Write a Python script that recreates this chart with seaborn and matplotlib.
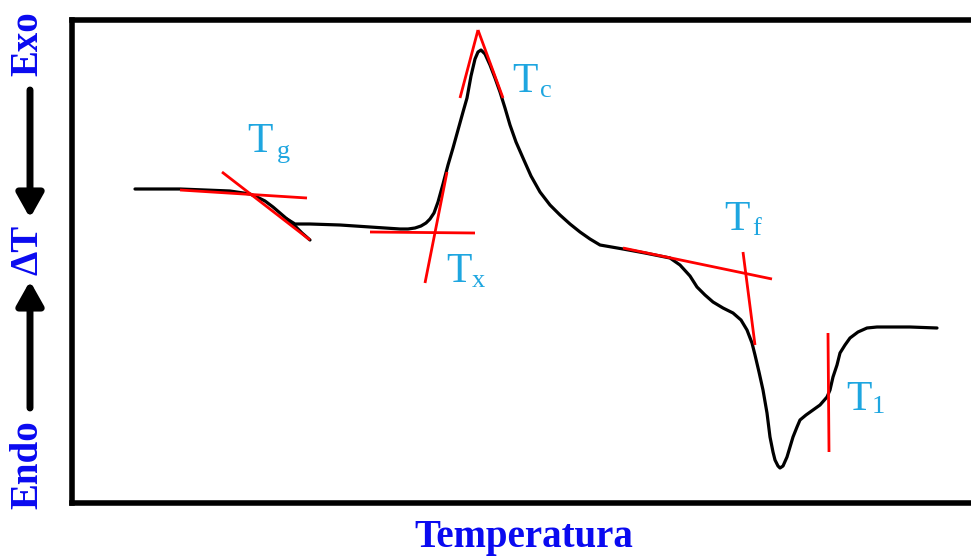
import matplotlib
matplotlib.use("Agg")
import matplotlib.pyplot as plt
import seaborn as sns
import pandas as pd

# ---------------- data (schematic DTA curve, arbitrary units) ----------------
curve_x = [135, 180, 230, 250, 257, 265, 273, 280, 287, 295, 310, 340, 370, 400, 408,
           415, 421, 426, 430, 434, 438, 443, 448, 453, 458, 463, 467, 471, 475, 478,
           481, 485, 490, 495, 500, 505, 510, 516, 523, 531, 540, 550, 560, 570, 580,
           590, 600, 623, 645, 670, 680, 690, 697, 705, 713, 723, 733, 741, 747, 752,
           755, 759, 763, 767, 770, 773, 775, 778, 780, 783, 787, 790, 793, 797, 800,
           806, 813, 820, 827, 830, 833, 837, 840, 845, 850, 858, 867, 877, 887, 910, 937]
curve_y = [189, 189, 191, 194, 197, 201, 207, 213, 219, 224, 224, 225, 227, 229, 229,
           228, 226, 223, 219, 213, 202, 184, 165, 148, 130, 112, 98, 76, 59, 52,
           50, 54, 65, 78, 92, 108, 125, 142, 158, 176, 192, 205, 215, 224, 232,
           239, 245, 249, 253, 258, 265, 276, 287, 295, 302, 308, 313, 320, 330, 343,
           355, 372, 390, 413, 437, 452, 460, 466, 468, 466, 457, 447, 437, 427, 420,
           415, 410, 405, 397, 390, 377, 365, 353, 345, 338, 332, 328, 327, 327, 327, 328]

tail_x = [287, 295, 302, 310]
tail_y = [219, 226, 233, 240]

# tangent / marker segments (start x, start y, end x, end y)
seg_x0 = [180, 222, 370, 425, 460, 478, 623, 743, 828]
seg_y0 = [190, 172, 232, 283, 98, 30, 248, 252, 333]
seg_x1 = [307, 310, 475, 447, 478, 503, 772, 755, 829]
seg_y1 = [198, 240, 233, 172, 30, 98, 279, 345, 452]

label_main = ["T", "T", "T", "T", "T"]
label_sub = ["g", "x", "c", "f", "1"]
label_x = [247, 446, 512, 724, 846]
label_y = [152, 282, 92, 230, 410]
sub_x = [277, 472, 540, 752, 872]
sub_y = [158, 287, 97, 235, 413]

x_title = "Temperatura"
y_parts = ["Endo", "\u0394T", "Exo"]

# ---------------- figure ----------------
W, H = 971, 557
sns.set_theme(style="white")
plt.rcParams["font.family"] = ["Liberation Serif", "DejaVu Serif"]

fig = plt.figure(figsize=(W / 100, H / 100), dpi=100)
left, right, top, bottom = 72, 985, 20, 503
ax = fig.add_axes([left / W, 1 - bottom / H, (right - left) / W, (bottom - top) / H])
ax.set_xlim(left, right)
ax.set_ylim(bottom, top)

df = pd.DataFrame({"x": curve_x, "y": curve_y})
sns.lineplot(data=df, x="x", y="y", ax=ax, sort=False, estimator=None,
             color="black", linewidth=2.3)
dft = pd.DataFrame({"x": tail_x, "y": tail_y})
sns.lineplot(data=dft, x="x", y="y", ax=ax, sort=False, estimator=None,
             color="black", linewidth=2.3)

for x0, y0, x1, y1 in zip(seg_x0, seg_y0, seg_x1, seg_y1):
    ax.plot([x0, x1], [y0, y1], color="#ff0000", linewidth=2.0, solid_capstyle="butt")

lab_color = "#1ea6e0"
for m, s, lx, ly, sx, sy in zip(label_main, label_sub, label_x, label_y, sub_x, sub_y):
    ax.text(lx, ly, m, color=lab_color, fontsize=30, ha="left", va="baseline")
    ax.text(sx, sy, s, color=lab_color, fontsize=19, ha="left", va="baseline")

ax.set_xticks([])
ax.set_yticks([])
ax.set_xlabel("")
ax.set_ylabel("")
for side in ["left", "bottom", "top"]:
    ax.spines[side].set_visible(True)
    ax.spines[side].set_color("black")
    ax.spines[side].set_linewidth(4)
ax.spines["right"].set_visible(False)

blue = "#0a0af0"
fig.text(524 / W, 1 - 547 / H, x_title, color=blue, fontsize=28, fontweight="bold",
         ha="center", va="baseline")

ylab_y = [465, 250, 44]
for txt, yy in zip(y_parts, ylab_y):
    fig.text(28 / W, 1 - yy / H, txt, color=blue, fontsize=28, fontweight="bold",
             rotation=90, ha="center", va="center")

arrow_kw = dict(arrowstyle="-|>,head_length=0.8,head_width=0.45", color="black",
                lw=5, mutation_scale=18, shrinkA=0, shrinkB=0)
ax.annotate("", xy=(30, H - 218), xytext=(30, H - 90), xycoords="figure pixels",
            textcoords="figure pixels", arrowprops=arrow_kw, annotation_clip=False)
ax.annotate("", xy=(30, H - 281), xytext=(30, H - 408), xycoords="figure pixels",
            textcoords="figure pixels", arrowprops=arrow_kw, annotation_clip=False)

fig.savefig("out.png", dpi=100)
